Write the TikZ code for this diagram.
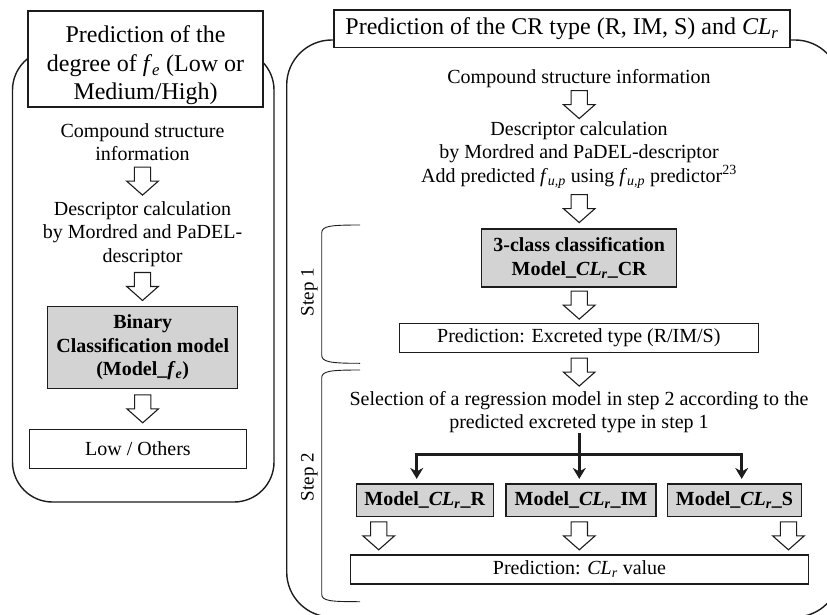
\documentclass[tikz,border=0pt]{standalone}
\usepackage{fontspec}
\setmainfont{Liberation Serif}
\usepackage{tikz}
\usetikzlibrary{arrows.meta,positioning,calc}
\definecolor{boxGray}{HTML}{D3D3D3}
\definecolor{ink}{HTML}{1C1C1C}
\newcommand{\fe}{\textit{f}\textsubscript{\textit{e}}}
\newcommand{\fup}{\textit{f}\textsubscript{\textit{u,p}}}
\newcommand{\CLr}{\textit{CL}\textsubscript{\textit{r}}}

\begin{document}
\begin{tikzpicture}[x=1pt,y=-1pt,>=Stealth,
  body/.style={font=\fontsize{20}{23.5}\selectfont,align=center,inner sep=0pt},
  titletext/.style={font=\fontsize{24}{28.5}\selectfont,align=center,inner sep=0pt},
  head/.style={draw=ink,line width=1.1pt,fill=white,inner sep=0pt,align=center,font=\fontsize{24}{28.5}\selectfont},
  plainbox/.style={draw=ink,line width=1.1pt,fill=white,inner sep=0pt,align=center,font=\fontsize{20}{23.5}\selectfont},
  graybox/.style={plainbox,fill=boxGray,font=\fontsize{20}{23.5}\selectfont\bfseries},
  hollow/.style={draw=ink,line width=1.1pt,fill=white,line join=miter,
    to path={let \p1=(\tikztostart),\p3=($(\tikztostart)!.5!(\tikztotarget)$) in
      (\x1-8.15pt,\y3+14pt) -- (\x1-8.15pt,\y3) -- (\x1-15.85pt,\y3) -- (\x1,\y3-14pt)
      -- (\x1+15.85pt,\y3) -- (\x1+8.15pt,\y3) -- (\x1+8.15pt,\y3+14pt) -- cycle}},
  panel/.style={draw=ink,line width=1.4pt,rounded corners=#1},
  fork/.style={draw=ink,line width=3pt},
  stepmark/.style={draw=ink,line width=0.9pt}]
\useasboundingbox (0,0) rectangle (827,615);
% outer panels
\draw[panel=40] (12.5,50) rectangle (274,502);
\draw[panel=45] (286.7,40) rectangle (840,617);

% left: degree of f_e
\node[head,minimum width=235pt,minimum height=96pt] (ltitle) at (145.5,59) {};
\node[titletext] (ltitletext) at (145.5,65.5) {Prediction of the\\degree of \fe{} (Low or\\Medium/High)};
\node[body] (lcs) at (142.5,142) {Compound structure\\information};
\node[body] (ldc) at (142.5,234) {Descriptor calculation\\by Mordred and PaDEL-\\descriptor};
\node[graybox,minimum width=190pt,minimum height=81.6pt] (lmod) at (142.7,347.5) {Binary\\Classification model\\(Model\_\fe)};
\node[plainbox,minimum width=217.4pt,minimum height=39pt] (lout) at (138,448.8) {Low / Others};
\draw[hollow] (lcs.south) to (ldc.north);
\draw[hollow] (ldc.south) to (lmod.north);
\draw[hollow] (lmod.south) to (lmod.south |- lout.north);

% right: CR type and CL_r
\node[head,minimum width=456pt,minimum height=37.7pt] (rtitle) at (562,28.9) {Prediction of the CR type (R, IM, S) and \CLr};
\node[body] (rcs) at (579,78.5) {Compound structure information};
\node[body] (rdc) at (579,155) {Descriptor calculation\\by Mordred and PaDEL-descriptor\\Add predicted \fup{} using \fup{} predictor\textsuperscript{23}};
\node[graybox,minimum width=195pt,minimum height=58pt] (rclass) at (579.2,258) {3-class classification\\Model\_\CLr\_CR};
\node[plainbox,minimum width=359pt,minimum height=29.4pt] (rpred) at (578.8,338) {Prediction: Excreted type (R/IM/S)};
\node[body] (rsel) at (579,412) {Selection of a regression model in step 2 according to the\\predicted excreted type in step 1};
\node[graybox,minimum width=137.3pt,minimum height=32.7pt] (modR) at (424.7,500.3) {Model\_\CLr\_R};
\node[graybox,minimum width=150pt,minimum height=32.7pt] (modIM) at (581,500.3) {Model\_\CLr\_IM};
\node[graybox,minimum width=134.4pt,minimum height=32.7pt] (modS) at (734.5,500.3) {Model\_\CLr\_S};
\node[plainbox,minimum width=457.6pt,minimum height=29pt] (rval) at (579.5,569.5) {Prediction: \CLr{} value};
\draw[hollow] (rcs.south -| rclass) to (rdc.north -| rclass);
\draw[hollow] (rdc.south -| rclass) to (rclass.north);
\draw[hollow] (rclass.south) to (rpred.north -| rclass);
\draw[hollow] (rpred.south -| rclass) to (rsel.north -| rclass);

% selection fork
\coordinate (fk) at (579.3,454);
\coordinate (fkL) at (416.7,454);
\coordinate (fkR) at (741.7,454);
\draw[fork,-{Stealth[length=11pt,width=13pt]},shorten >=4.5pt] (rsel.south -| fk) -- (fk |- modIM.north);
\draw[fork,-{Stealth[length=11pt,width=13pt]},shorten >=4.5pt] (fk) -| (fkL |- modR.north);
\draw[fork,-{Stealth[length=11pt,width=13pt]},shorten >=4.5pt] (fk) -| (fkR |- modS.north);

% model outputs
\path (modR.south west) ++(23.2,0) coordinate (oR);
\path (modIM.south -| fk) coordinate (oIM);
\path (modS.south west) ++(121.7,0) coordinate (oS);
\draw[hollow] (oR) to (oR |- rval.north);
\draw[hollow] (oIM) to (oIM |- rval.north);
\draw[hollow] (oS) to (oS |- rval.north);

% step brackets
\draw[stepmark] (360,225) .. controls (330,225) and (321.7,226) .. (321.7,233) -- (321.7,355) .. controls (321.7,362) and (330,363.3) .. (360,363.3);
\draw[stepmark] (360,370) .. controls (330,370) and (321.7,371) .. (321.7,378) -- (321.7,594) .. controls (321.7,601) and (330,601.7) .. (360,601.7);
\node[body,font=\fontsize{19}{22}\selectfont,rotate=90] (st1) at (309.3,292) {Step 1};
\node[body,font=\fontsize{19}{22}\selectfont,rotate=90] (st2) at (309.3,477) {Step 2};
\end{tikzpicture}
\end{document}
